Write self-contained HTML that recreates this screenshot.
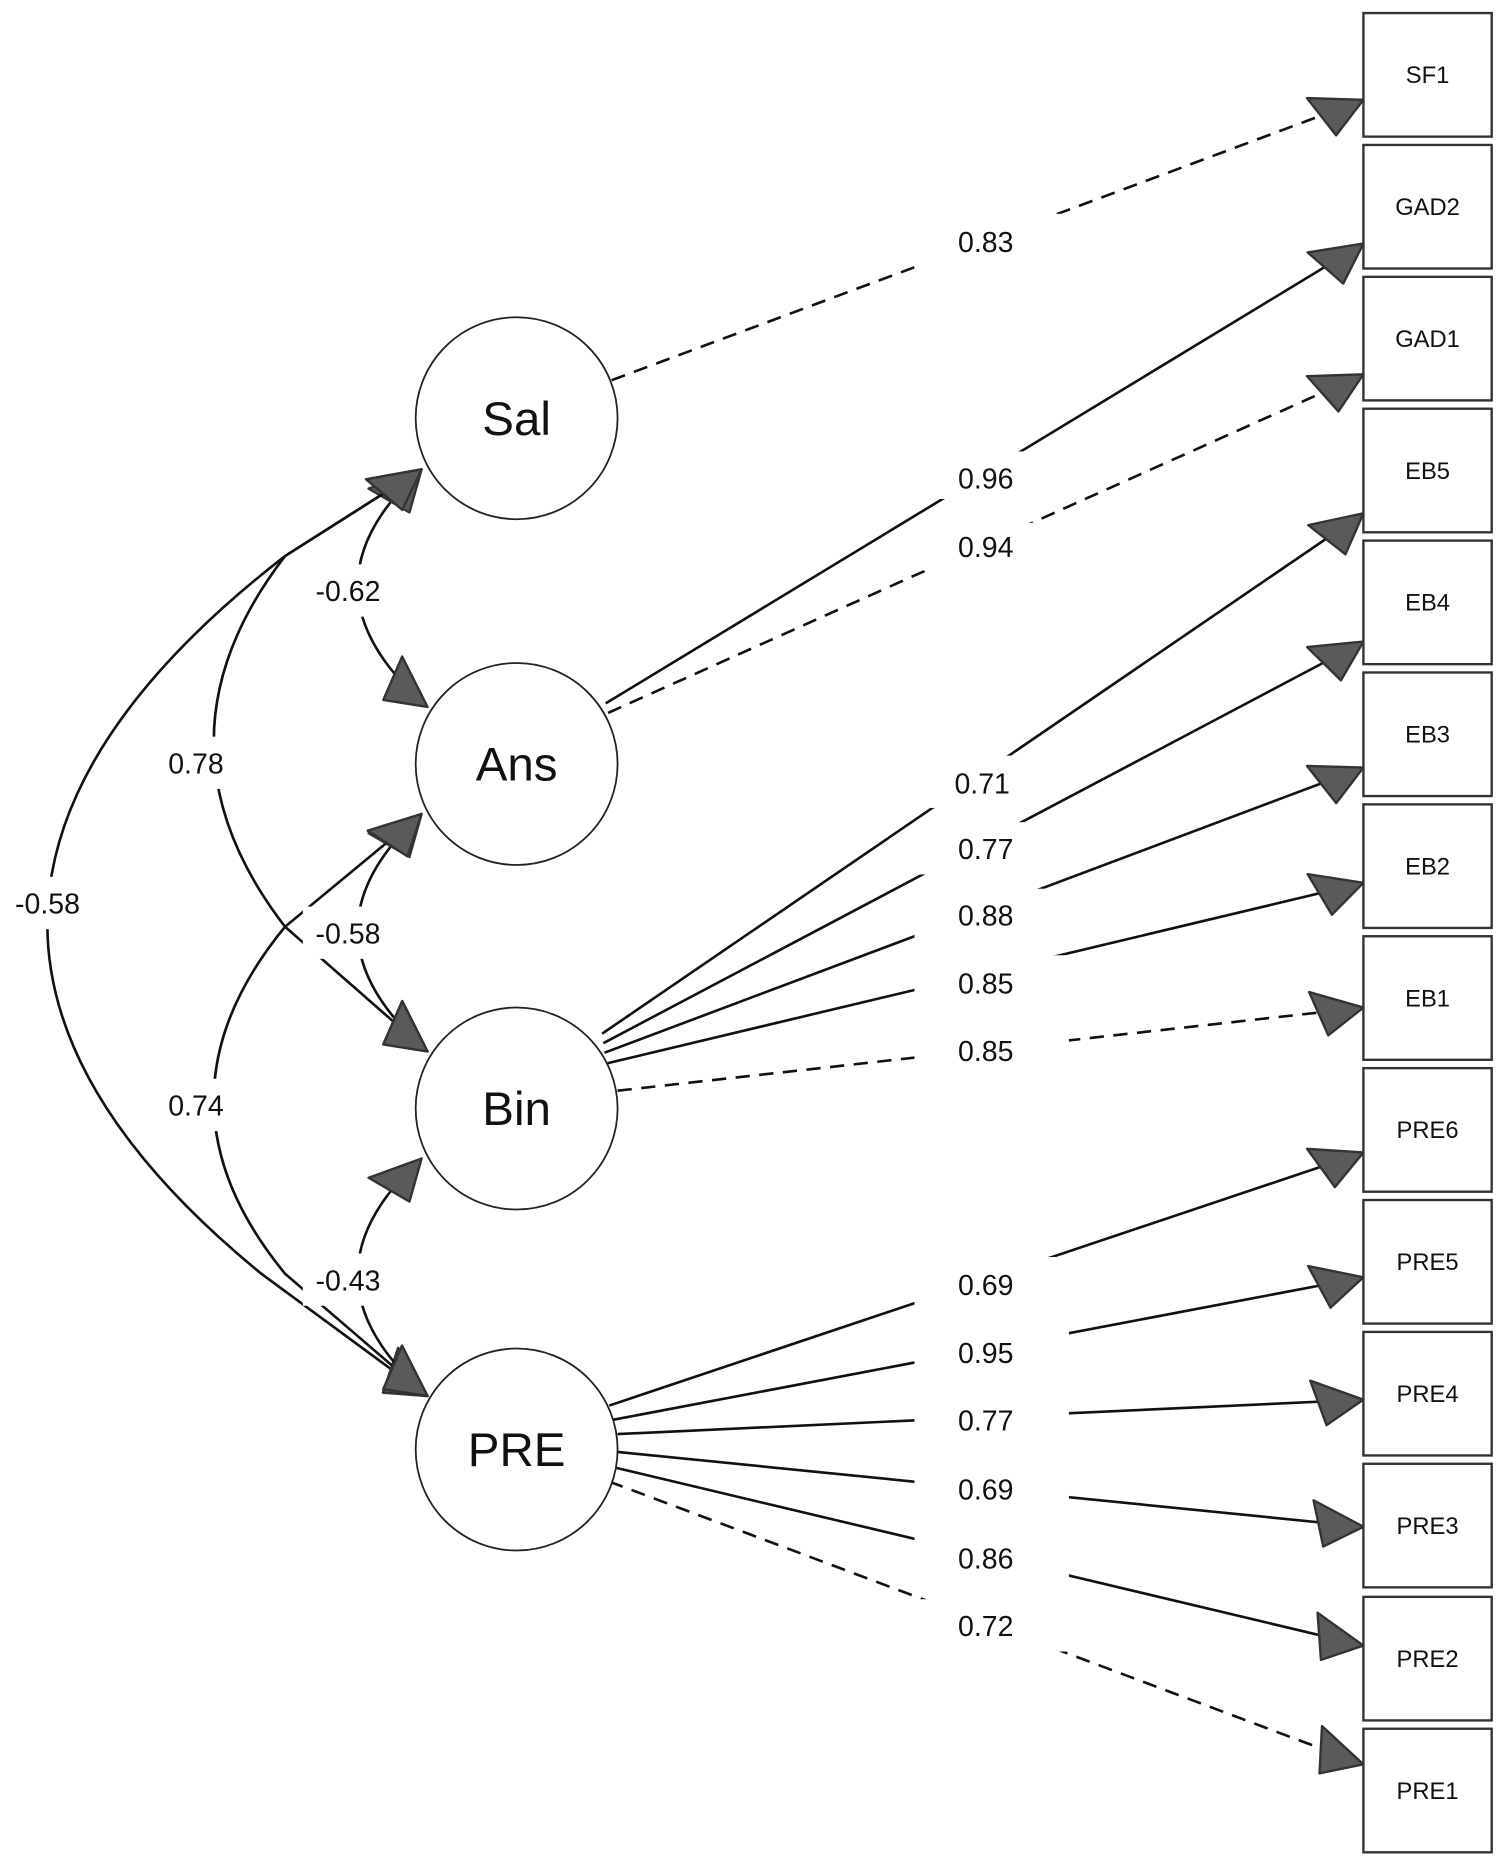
<!DOCTYPE html>
<html><head><meta charset="utf-8"><style>
html,body{margin:0;padding:0;background:#fff;}
svg{display:block;}
text{font-family:"Liberation Sans",Arial,sans-serif;fill:#111;}
</style></head><body>
<svg width="1500" height="1863" viewBox="0 0 1263 1568" preserveAspectRatio="none" xmlns="http://www.w3.org/2000/svg">
<defs>
<marker id="a" markerUnits="userSpaceOnUse" markerWidth="50" markerHeight="44" refX="46" refY="20" orient="auto-start-reverse" viewBox="0 0 50 44">
<path d="M2,2 L46,20 L14,40 Z" fill="#5a5a5a" stroke="#333" stroke-width="2" stroke-linejoin="round"/>
</marker>
</defs>
<g stroke="#111" stroke-width="2.2" fill="none">
<line x1="515" y1="320" x2="1148" y2="84" stroke-dasharray="12,8" marker-end="url(#a)"/>
<line x1="510" y1="592" x2="1148" y2="205" marker-end="url(#a)"/>
<line x1="512" y1="600" x2="1148" y2="315" stroke-dasharray="12,8" marker-end="url(#a)"/>
<line x1="507" y1="870" x2="1148" y2="432" marker-end="url(#a)"/>
<line x1="508" y1="878" x2="1148" y2="540" marker-end="url(#a)"/>
<line x1="509" y1="886" x2="1148" y2="646" marker-end="url(#a)"/>
<line x1="511" y1="895" x2="1148" y2="743" marker-end="url(#a)"/>
<line x1="520" y1="918" x2="1148" y2="848" stroke-dasharray="12,8" marker-end="url(#a)"/>
<line x1="513" y1="1183" x2="1148" y2="970" marker-end="url(#a)"/>
<line x1="516" y1="1195" x2="1148" y2="1075" marker-end="url(#a)"/>
<line x1="520" y1="1207" x2="1148" y2="1178" marker-end="url(#a)"/>
<line x1="520" y1="1222" x2="1148" y2="1285" marker-end="url(#a)"/>
<line x1="517" y1="1235" x2="1148" y2="1385" marker-end="url(#a)"/>
<line x1="513" y1="1247" x2="1148" y2="1485" stroke-dasharray="12,8" marker-end="url(#a)"/>
<!-- covariances -->
<path d="M355,395 Q245,495 360,595" marker-start="url(#a)" marker-end="url(#a)"/>
<path d="M355,395 L240,468 Q120,624 240,780 L360,885" marker-start="url(#a)" marker-end="url(#a)"/>
<path d="M355,395 L240,468 Q-150,770 220,1072 L360,1175" marker-start="url(#a)" marker-end="url(#a)"/>
<path d="M355,685 Q245,785 360,885" marker-start="url(#a)" marker-end="url(#a)"/>
<path d="M355,685 L240,780 Q120,926 240,1072 L360,1175" marker-start="url(#a)" marker-end="url(#a)"/>
<path d="M355,975 Q245,1075 360,1175" marker-start="url(#a)" marker-end="url(#a)"/>
</g>
<g fill="#fff">
<rect x="770" y="180" width="125" height="48"/>
<rect x="770" y="380" width="100" height="40"/>
<rect x="770" y="440" width="100" height="40"/>
<rect x="770" y="636" width="100" height="44"/>
<rect x="770" y="692" width="120" height="44"/>
<rect x="770" y="748" width="130" height="44"/>
<rect x="770" y="804" width="130" height="44"/>
<rect x="770" y="862" width="130" height="44"/>
<rect x="770" y="1058" width="130" height="44"/>
<rect x="770" y="1116" width="130" height="44"/>
<rect x="770" y="1173" width="130" height="44"/>
<rect x="770" y="1231" width="130" height="44"/>
<rect x="770" y="1289" width="130" height="44"/>
<rect x="770" y="1346" width="130" height="44"/>
<rect x="255" y="475" width="80" height="44"/>
<rect x="255" y="763" width="80" height="44"/>
<rect x="255" y="1055" width="80" height="44"/>
<rect x="125" y="620" width="80" height="44"/>
<rect x="125" y="908" width="80" height="44"/>
<rect x="2" y="738" width="80" height="44"/>
</g>
<g font-size="24" text-anchor="middle">
<text x="830" y="212">0.83</text>
<text x="830" y="411">0.96</text>
<text x="830" y="469">0.94</text>
<text x="827" y="668">0.71</text>
<text x="830" y="723">0.77</text>
<text x="830" y="779">0.88</text>
<text x="830" y="836">0.85</text>
<text x="830" y="893">0.85</text>
<text x="830" y="1090">0.69</text>
<text x="830" y="1147">0.95</text>
<text x="830" y="1204">0.77</text>
<text x="830" y="1262">0.69</text>
<text x="830" y="1320">0.86</text>
<text x="830" y="1377">0.72</text>
<text x="293" y="506">-0.62</text>
<text x="293" y="794">-0.58</text>
<text x="293" y="1086">-0.43</text>
<text x="165" y="651">0.78</text>
<text x="165" y="939">0.74</text>
<text x="40" y="769">-0.58</text>
</g>
<g fill="#fff" stroke="#222" stroke-width="1.5">
<circle cx="435" cy="352" r="85"/>
<circle cx="435" cy="643" r="85"/>
<circle cx="435" cy="933" r="85"/>
<circle cx="435" cy="1220" r="85"/>
</g>
<g font-size="40" text-anchor="middle">
<text x="435" y="366">Sal</text>
<text x="435" y="657">Ans</text>
<text x="435" y="947">Bin</text>
<text x="435" y="1234">PRE</text>
</g>
<g fill="#fff" stroke="#333" stroke-width="2">
<rect x="1148" y="11" width="108" height="104"/>
<rect x="1148" y="122" width="108" height="104"/>
<rect x="1148" y="233" width="108" height="104"/>
<rect x="1148" y="344" width="108" height="104"/>
<rect x="1148" y="455" width="108" height="104"/>
<rect x="1148" y="566" width="108" height="104"/>
<rect x="1148" y="677" width="108" height="104"/>
<rect x="1148" y="788" width="108" height="104"/>
<rect x="1148" y="899" width="108" height="104"/>
<rect x="1148" y="1010" width="108" height="104"/>
<rect x="1148" y="1121" width="108" height="104"/>
<rect x="1148" y="1232" width="108" height="104"/>
<rect x="1148" y="1344" width="108" height="104"/>
<rect x="1148" y="1455" width="108" height="104"/>
</g>
<g font-size="20" text-anchor="middle">
<text x="1202" y="70">SF1</text>
<text x="1202" y="181">GAD2</text>
<text x="1202" y="292">GAD1</text>
<text x="1202" y="403">EB5</text>
<text x="1202" y="514">EB4</text>
<text x="1202" y="625">EB3</text>
<text x="1202" y="736">EB2</text>
<text x="1202" y="847">EB1</text>
<text x="1202" y="958">PRE6</text>
<text x="1202" y="1069">PRE5</text>
<text x="1202" y="1180">PRE4</text>
<text x="1202" y="1291">PRE3</text>
<text x="1202" y="1403">PRE2</text>
<text x="1202" y="1514">PRE1</text>
</g>
</svg>
</body></html>
